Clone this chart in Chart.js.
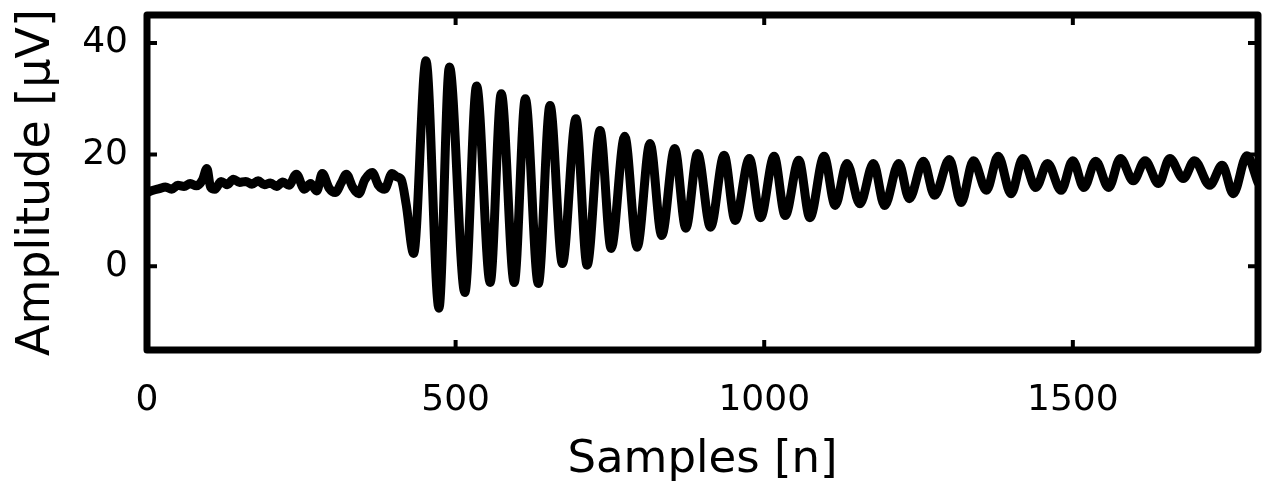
<!DOCTYPE html>
<html>
<head>
<meta charset="utf-8">
<script src="https://cdn.jsdelivr.net/npm/chart.js@4"></script>
<style>
  html, body { margin: 0; padding: 0; background: #fff; }
  #wrap { width: 1265px; height: 487px; }
</style>
</head>
<body>
<div id="wrap"><canvas id="sig"></canvas></div>
<script>
// samples (baseline, then the ringing response)
const samples = [
    0, 10, 20, 30, 40, 50, 60, 70, 80, 90, 97, 103, 110, 120, 130, 140, 150, 160, 170, 180,
    190, 200, 210, 220, 230, 242, 255, 265, 275, 284, 295, 305, 315, 323, 333, 343, 353, 365,
    375, 385, 397, 405, 412, 420,
    432, 452, 473, 490, 515, 534, 556, 574, 595, 613, 634, 653, 673, 695, 713, 734, 752, 774,
    794, 815, 834, 855, 873, 892, 913, 935, 953, 976, 994, 1016, 1034, 1056, 1074, 1097, 1115,
    1134, 1155, 1177, 1195, 1218, 1235, 1258, 1276, 1300, 1319, 1339, 1360, 1379, 1400, 1419,
    1440, 1459, 1481, 1500, 1518, 1537, 1558, 1577, 1598, 1617, 1639, 1657, 1679, 1697, 1722,
    1742, 1760, 1782, 1800
];
const amplitude = [
    13.2, 13.6, 13.9, 14.2, 13.8, 14.5, 14.3, 14.8, 14.4, 15.5, 17.5, 14.2, 13.8, 15.2, 14.6, 15.6, 15.0, 15.2, 14.7, 15.3,
    14.6, 14.9, 14.3, 15.1, 14.5, 16.5, 13.8, 14.8, 13.5, 16.6, 14.0, 13.2, 15.0, 16.5, 14.2, 13.0, 15.5, 16.8,
    14.5, 13.8, 16.6, 16.0, 15.5, 11.0,
    2.3, 36.8, -7.5, 35.7, -4.7, 32.3, -2.9, 30.9, -2.9, 30.0, -3.1, 28.8, 0.5, 26.4, 0.2, 24.3, 3.2, 23.3,
    3.4, 22.0, 5.5, 21.1, 6.8, 20.2, 7.0, 19.9, 8.2, 19.3, 8.7, 19.7, 9.1, 19.0, 8.7, 19.7, 10.9,
    18.4, 11.2, 18.4, 10.9, 18.4, 12.1, 18.8, 12.7, 19.1, 11.4, 18.9, 13.6, 19.7, 13.0, 19.3,
    14.1, 18.4, 13.6, 18.9, 14.1, 18.8, 14.1, 19.3, 15.3, 18.9, 14.8, 19.3, 15.7, 18.9, 14.5,
    18.1, 13.0, 19.8, 15.0
];
const xTicks = [0, 500, 1000, 1500];
const yTicks = [0, 20, 40];

const points = samples.map((s, i) => ({ x: s, y: amplitude[i] }));

// box frame with inward tick marks, matlab style
const frame = {
    id: 'frame',
    afterDraw(chart) {
        const { ctx, chartArea: a, scales } = chart;
        ctx.save();
        ctx.strokeStyle = '#000';
        ctx.lineWidth = 7;
        ctx.lineJoin = 'round';
        ctx.strokeRect(a.left, a.top, a.right - a.left, a.bottom - a.top);
        ctx.lineWidth = 4;
        const len = 10;
        xTicks.forEach(v => {
            const px = scales.x.getPixelForValue(v);
            ctx.beginPath();
            ctx.moveTo(px, a.bottom); ctx.lineTo(px, a.bottom - len);
            ctx.moveTo(px, a.top); ctx.lineTo(px, a.top + len);
            ctx.stroke();
        });
        yTicks.forEach(v => {
            const py = scales.y.getPixelForValue(v);
            ctx.beginPath();
            ctx.moveTo(a.left, py); ctx.lineTo(a.left + len, py);
            ctx.moveTo(a.right, py); ctx.lineTo(a.right - len, py);
            ctx.stroke();
        });
        ctx.restore();
    }
};

const font = 'DejaVu Sans, Arial, sans-serif';

new Chart(document.getElementById('sig'), {
    type: 'line',
    data: {
        datasets: [{
            data: points,
            borderColor: '#000',
            borderWidth: 9,
            pointRadius: 0,
            cubicInterpolationMode: 'monotone',
            borderJoinStyle: 'round',
            borderCapStyle: 'round'
        }]
    },
    options: {
        responsive: true,
        maintainAspectRatio: false,
        animation: false,
        layout: { padding: { left: 0, top: 15, right: 7, bottom: 0 } },
        plugins: { legend: { display: false }, tooltip: { enabled: false } },
        scales: {
            x: {
                type: 'linear',
                min: 0,
                max: 1800,
                afterBuildTicks: s => { s.ticks = xTicks.map(v => ({ value: v })); },
                afterFit: s => { s.height = 137; s.paddingLeft = 0; s.paddingRight = 0; },
                grid: { display: false, drawTicks: false },
                border: { display: false },
                ticks: {
                    color: '#000', padding: 29, maxRotation: 0,
                    callback: v => String(v),
                    font: { family: font, size: 36 }
                },
                title: {
                    display: true,
                    text: 'Samples [n]',
                    color: '#000',
                    padding: { top: 0, bottom: 0 },
                    font: { family: font, size: 45 }
                }
            },
            y: {
                min: -15,
                max: 45,
                afterBuildTicks: s => { s.ticks = yTicks.map(v => ({ value: v })); },
                afterFit: s => { s.width = 147; s.paddingTop = 0; s.paddingBottom = 0; },
                grid: { display: false, drawTicks: false },
                border: { display: false },
                ticks: { color: '#000', padding: 19, font: { family: font, size: 36 } },
                title: {
                    display: true,
                    text: 'Amplitude [μV]',
                    color: '#000',
                    padding: { top: 9, bottom: 0 },
                    font: { family: font, size: 46 }
                }
            }
        }
    },
    plugins: [frame]
});
</script>
</body>
</html>
